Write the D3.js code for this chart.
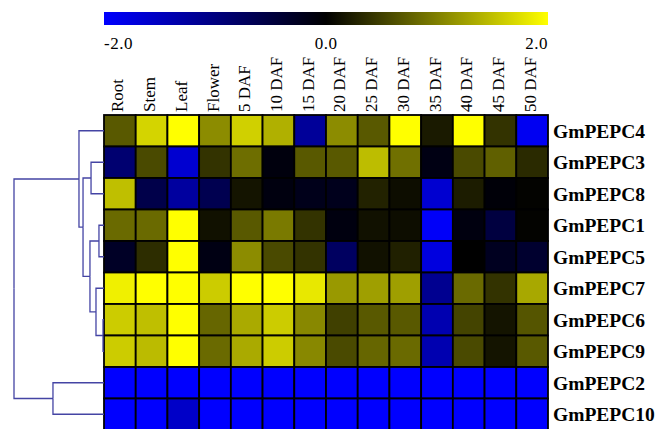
<html>
<head>
  <meta charset="utf-8" />
  <script src="https://d3js.org/d3.v7.min.js"></script>
</head>
<body style="margin: 0; background: white">
<script>

// tissues / stages (columns)
var tissues = ['Root', 'Stem', 'Leaf', 'Flower', '5 DAF', '10 DAF', '15 DAF', '20 DAF',
               '25 DAF', '30 DAF', '35 DAF', '40 DAF', '45 DAF', '50 DAF']

// genes in dendrogram leaf order (rows)
var genes = ['GmPEPC4', 'GmPEPC3', 'GmPEPC8', 'GmPEPC1', 'GmPEPC5',
             'GmPEPC7', 'GmPEPC6', 'GmPEPC9', 'GmPEPC2', 'GmPEPC10']

// log2 expression, one row per gene
var GmPEPC4  = [0.7, 1.66, 2.0, 1.1, 1.63, 1.38, -1.2, 1.1, 0.7, 2.0, 0.2, 2.0, 0.4, -1.9]
var GmPEPC3  = [-0.88, 0.58, -1.63, 0.4, 0.86, -0.1, 0.7, 0.7, 1.48, 0.88, -0.15, 0.58, 0.75, 0.33]
var GmPEPC8  = [1.5, -0.58, -1.25, -0.63, 0.16, -0.12, -0.2, -0.22, 0.27, 0.1, -1.63, 0.22, -0.06, 0.02]
var GmPEPC1  = [0.83, 0.83, 2.0, 0.13, 0.7, 0.96, 0.4, -0.12, 0.13, 0.1, -1.95, -0.12, -0.5, 0.02]
var GmPEPC5  = [-0.3, 0.35, 2.0, -0.15, 1.1, 0.58, 0.4, -0.75, 0.13, 0.25, -1.75, 0.0, -0.25, -0.37]
var GmPEPC7  = [1.88, 2.0, 2.0, 1.6, 2.0, 2.0, 1.82, 1.2, 1.25, 1.25, -1.13, 0.83, 0.4, 1.32]
var GmPEPC6  = [1.6, 1.5, 2.0, 0.8, 1.33, 1.6, 1.07, 0.5, 0.7, 0.7, -1.38, 0.53, 0.16, 0.67]
var GmPEPC9  = [1.6, 1.47, 2.0, 0.83, 1.33, 1.6, 1.07, 0.58, 0.8, 0.83, -1.38, 0.58, 0.16, 0.7]
var GmPEPC2  = [-2.0, -2.0, -2.0, -2.0, -2.0, -2.0, -2.0, -2.0, -2.0, -2.0, -2.0, -2.0, -2.0, -2.0]
var GmPEPC10 = [-2.0, -2.0, -1.57, -2.0, -2.0, -2.0, -2.0, -2.0, -2.0, -2.0, -2.0, -2.0, -2.0, -2.0]

var values = [GmPEPC4, GmPEPC3, GmPEPC8, GmPEPC1, GmPEPC5, GmPEPC7, GmPEPC6, GmPEPC9, GmPEPC2, GmPEPC10]

// colour key
var keyStops = [-2, 0, 2]
var keyLabels = ['-2.0', '0.0', '2.0']

// hierarchical clustering tree, h = relative merge height
var tree = {h: 1.0, children: [
  {h: 0.278, children: [
    {name: 'GmPEPC4'},
    {h: 0.233, children: [
      {h: 0.144, children: [{name: 'GmPEPC3'}, {name: 'GmPEPC8'}]},
      {h: 0.156, children: [
        {h: 0.056, children: [{name: 'GmPEPC1'}, {name: 'GmPEPC5'}]},
        {h: 0.089, children: [
          {name: 'GmPEPC7'},
          {h: 0.011, children: [{name: 'GmPEPC6'}, {name: 'GmPEPC9'}]}
        ]}
      ]}
    ]}
  ]},
  {h: 0.567, children: [{name: 'GmPEPC2'}, {name: 'GmPEPC10'}]}
]}

var width = 655, height = 429
var leftX = 104, rightX = 548, topY = 115, rowH = 31.5
var serif = 'Liberation Serif, Times New Roman, serif'

var svg = d3.select('body').append('svg')
  .attr('width', width)
  .attr('height', height)

var color = d3.scaleLinear()
  .domain(keyStops)
  .range(['#0000ff', '#000000', '#ffff00'])
  .clamp(true)

var x = d3.scaleBand().domain(tissues).range([leftX, rightX])
var y = d3.scaleBand().domain(genes).range([topY, topY + rowH * genes.length])

// colour key
var grad = svg.append('defs').append('linearGradient').attr('id', 'key')
keyStops.forEach(function(s, i) {
  grad.append('stop')
    .attr('offset', (i / (keyStops.length - 1) * 100) + '%')
    .attr('stop-color', color(s))
})
svg.append('rect')
  .attr('x', leftX).attr('y', 12)
  .attr('width', rightX - leftX).attr('height', 13)
  .attr('fill', 'url(#key)')

var kx = d3.scaleLinear().domain([-2, 2]).range([leftX, rightX])
svg.selectAll('.keylabel')
  .data(keyLabels)
  .enter().append('text')
  .attr('class', 'keylabel')
  .attr('x', function(d) { return kx(+d) })
  .attr('y', 49)
  .attr('text-anchor', function(d, i) { return i == 0 ? 'start' : (i == keyLabels.length - 1 ? 'end' : 'middle') })
  .style('font-family', serif)
  .style('font-size', '17px')
  .style('letter-spacing', '0.5px')
  .text(function(d) { return d })

// column labels
svg.selectAll('.collabel')
  .data(tissues)
  .enter().append('text')
  .attr('class', 'collabel')
  .attr('transform', function(d) { return 'translate(' + (x(d) + x.bandwidth() / 2 + 3.5) + ',112) rotate(-90)' })
  .style('font-family', serif)
  .style('font-size', '17px')
  .text(function(d) { return d })

// cells
var rows = svg.selectAll('.row')
  .data(values)
  .enter().append('g')
  .attr('class', 'row')
  .attr('transform', function(d, i) { return 'translate(0,' + y(genes[i]) + ')' })

rows.selectAll('rect')
  .data(function(d) { return d })
  .enter().append('rect')
  .attr('x', function(d, j) { return x(tissues[j]) })
  .attr('width', x.bandwidth())
  .attr('height', y.bandwidth())
  .attr('fill', function(d) { return color(d) })
  .attr('stroke', '#000')
  .attr('stroke-width', 1.8)

// row labels
svg.selectAll('.rowlabel')
  .data(genes)
  .enter().append('text')
  .attr('class', 'rowlabel')
  .attr('x', 553)
  .attr('y', function(d) { return y(d) + y.bandwidth() / 2 })
  .attr('dy', '0.35em')
  .style('font-family', serif)
  .style('font-weight', 'bold')
  .style('font-size', '19.5px')
  .text(function(d) { return d })

// dendrogram
var root = d3.hierarchy(tree)
var hx = d3.scaleLinear().domain([0, 1]).range([leftX, 14])

root.eachAfter(function(n) {
  if (!n.children) {
    n.py = y(n.data.name) + y.bandwidth() / 2
    n.px = leftX
  } else {
    n.py = d3.mean(n.children, function(c) { return c.py })
    n.px = hx(n.data.h)
  }
})

svg.append('g')
  .selectAll('path')
  .data(root.links())
  .enter().append('path')
  .attr('d', function(l) {
    return 'M' + l.source.px + ',' + l.source.py + 'V' + l.target.py + 'H' + l.target.px
  })
  .attr('fill', 'none')
  .attr('stroke', '#4444a4')
  .attr('stroke-width', 1.3)

</script>
</body>
</html>
